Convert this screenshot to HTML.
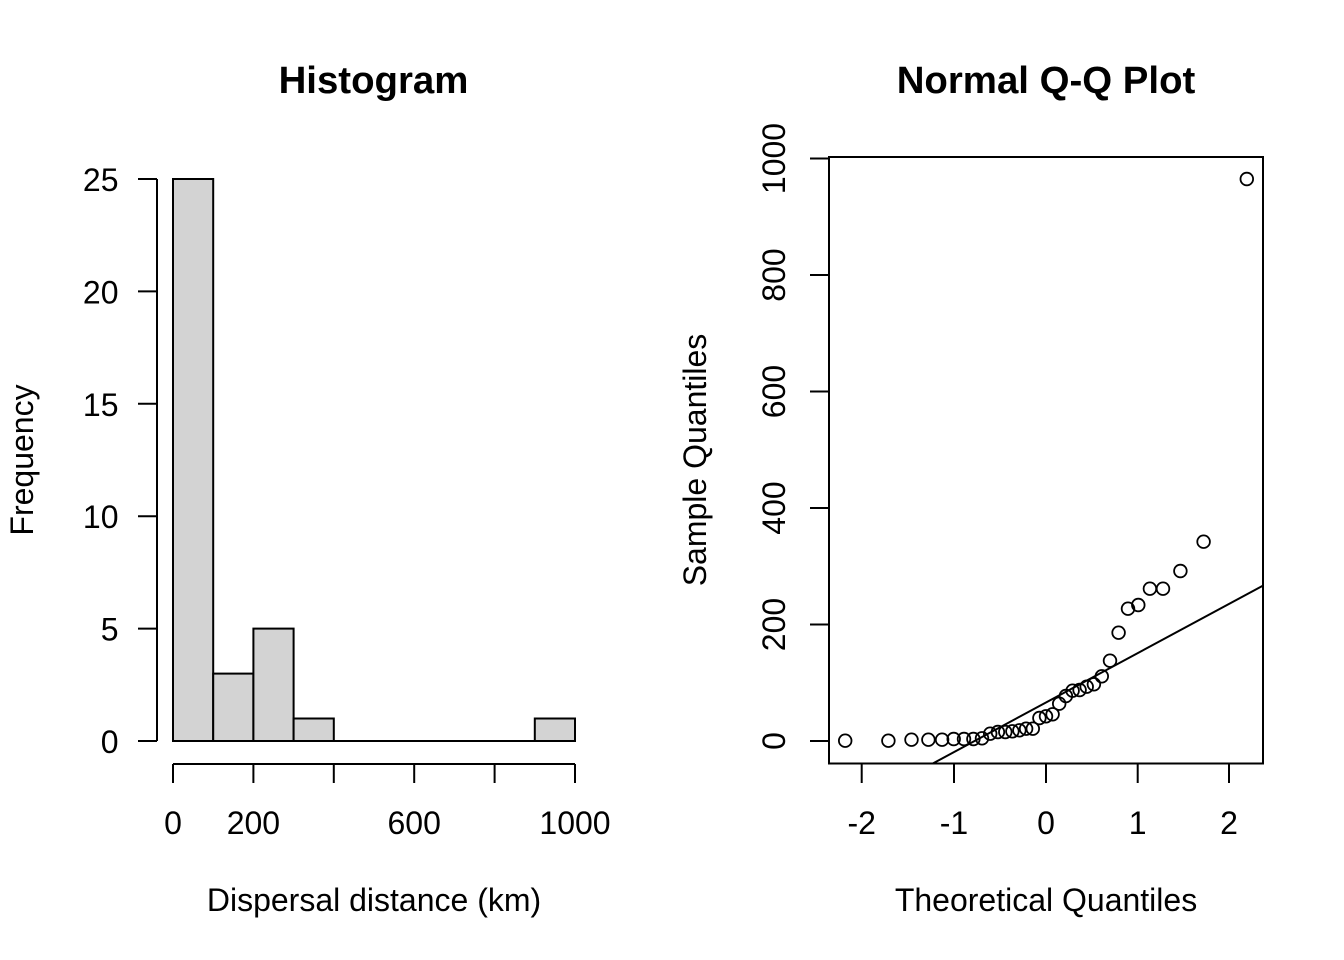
<!DOCTYPE html>
<html>
<head>
<meta charset="utf-8">
<style>
  html, body { margin: 0; padding: 0; background: #ffffff; }
  svg { display: block; }
  text { font-family: "Liberation Sans", Arial, sans-serif; fill: #000; }
  .t { font-size: 32px; }
  .title { font-size: 38.4px; font-weight: bold; }
</style>
</head>
<body>
<svg width="1344" height="960" viewBox="0 0 1344 960" xmlns="http://www.w3.org/2000/svg">
  <rect x="0" y="0" width="1344" height="960" fill="#ffffff"/>

  <!-- ================= HISTOGRAM ================= -->
  <text class="title" x="373.5" y="93" text-anchor="middle">Histogram</text>

  <!-- bars -->
  <g fill="#d3d3d3" stroke="#000" stroke-width="2">
    <rect x="173" y="179" width="40.2" height="562"/>
    <rect x="213.2" y="673.6" width="40.2" height="67.4"/>
    <rect x="253.4" y="628.6" width="40.2" height="112.4"/>
    <rect x="293.6" y="718.5" width="40.2" height="22.5"/>
    <rect x="534.8" y="718.5" width="40.2" height="22.5"/>
  </g>
  <line x1="333.8" y1="741" x2="534.8" y2="741" stroke="#000" stroke-width="2"/>

  <!-- y axis -->
  <g stroke="#000" stroke-width="2" fill="none">
    <line x1="157" y1="179" x2="157" y2="741"/>
    <line x1="138" y1="741" x2="157" y2="741"/>
    <line x1="138" y1="628.6" x2="157" y2="628.6"/>
    <line x1="138" y1="516.2" x2="157" y2="516.2"/>
    <line x1="138" y1="403.8" x2="157" y2="403.8"/>
    <line x1="138" y1="291.4" x2="157" y2="291.4"/>
    <line x1="138" y1="179" x2="157" y2="179"/>
  </g>
  <g class="t" text-anchor="end">
    <text class="t" x="118.5" y="753">0</text>
    <text class="t" x="118.5" y="640.6">5</text>
    <text class="t" x="118.5" y="528.2">10</text>
    <text class="t" x="118.5" y="415.8">15</text>
    <text class="t" x="118.5" y="303.4">20</text>
    <text class="t" x="118.5" y="191">25</text>
  </g>
  <text class="t" transform="translate(33,460) rotate(-90)" text-anchor="middle">Frequency</text>

  <!-- x axis -->
  <g stroke="#000" stroke-width="2" fill="none">
    <line x1="173" y1="764" x2="575" y2="764"/>
    <line x1="173" y1="764" x2="173" y2="783"/>
    <line x1="253.4" y1="764" x2="253.4" y2="783"/>
    <line x1="333.8" y1="764" x2="333.8" y2="783"/>
    <line x1="414.2" y1="764" x2="414.2" y2="783"/>
    <line x1="494.6" y1="764" x2="494.6" y2="783"/>
    <line x1="575" y1="764" x2="575" y2="783"/>
  </g>
  <g text-anchor="middle">
    <text class="t" x="173" y="834">0</text>
    <text class="t" x="253.4" y="834">200</text>
    <text class="t" x="414.2" y="834">600</text>
    <text class="t" x="575" y="834">1000</text>
  </g>
  <text class="t" x="374" y="911" text-anchor="middle">Dispersal distance (km)</text>

  <!-- ================= Q-Q PLOT ================= -->
  <text class="title" x="1046" y="93" text-anchor="middle">Normal Q-Q Plot</text>

  <rect x="829" y="157" width="434" height="606.5" fill="none" stroke="#000" stroke-width="2"/>

  <!-- y axis ticks -->
  <g stroke="#000" stroke-width="2">
    <line x1="810" y1="741" x2="829" y2="741"/>
    <line x1="810" y1="624.5" x2="829" y2="624.5"/>
    <line x1="810" y1="508" x2="829" y2="508"/>
    <line x1="810" y1="391.5" x2="829" y2="391.5"/>
    <line x1="810" y1="275" x2="829" y2="275"/>
    <line x1="810" y1="158.5" x2="829" y2="158.5"/>
  </g>
  <text class="t" transform="translate(785,741) rotate(-90)" text-anchor="middle">0</text>
  <text class="t" transform="translate(785,624.5) rotate(-90)" text-anchor="middle">200</text>
  <text class="t" transform="translate(785,508) rotate(-90)" text-anchor="middle">400</text>
  <text class="t" transform="translate(785,391.5) rotate(-90)" text-anchor="middle">600</text>
  <text class="t" transform="translate(785,275) rotate(-90)" text-anchor="middle">800</text>
  <text class="t" transform="translate(785,158.5) rotate(-90)" text-anchor="middle">1000</text>
  <text class="t" transform="translate(706,460) rotate(-90)" text-anchor="middle">Sample Quantiles</text>

  <!-- x axis ticks -->
  <g stroke="#000" stroke-width="2">
    <line x1="861.7" y1="763.5" x2="861.7" y2="783"/>
    <line x1="954" y1="763.5" x2="954" y2="783"/>
    <line x1="1046" y1="763.5" x2="1046" y2="783"/>
    <line x1="1137.7" y1="763.5" x2="1137.7" y2="783"/>
    <line x1="1229" y1="763.5" x2="1229" y2="783"/>
  </g>
  <g text-anchor="middle">
    <text class="t" x="861.7" y="834">-2</text>
    <text class="t" x="954" y="834">-1</text>
    <text class="t" x="1046" y="834">0</text>
    <text class="t" x="1137.7" y="834">1</text>
    <text class="t" x="1229" y="834">2</text>
  </g>
  <text class="t" x="1046" y="911" text-anchor="middle">Theoretical Quantiles</text>

  <!-- qq line -->
  <line x1="932.8" y1="763.5" x2="1263" y2="585.6" stroke="#000" stroke-width="2"/>

  <!-- points -->
  <g fill="none" stroke="#000" stroke-width="1.8">
    <circle cx="845.2" cy="740.7" r="6.3"/>
    <circle cx="888.4" cy="740.7" r="6.3"/>
    <circle cx="911.5" cy="739.7" r="6.3"/>
    <circle cx="928.4" cy="739.7" r="6.3"/>
    <circle cx="942.1" cy="739.7" r="6.3"/>
    <circle cx="953.7" cy="739" r="6.3"/>
    <circle cx="964.0" cy="739" r="6.3"/>
    <circle cx="973.4" cy="739" r="6.3"/>
    <circle cx="982.0" cy="738.3" r="6.3"/>
    <circle cx="990.2" cy="733.7" r="6.3"/>
    <circle cx="997.9" cy="732" r="6.3"/>
    <circle cx="1005.3" cy="732" r="6.3"/>
    <circle cx="1012.4" cy="731.3" r="6.3"/>
    <circle cx="1019.4" cy="730.3" r="6.3"/>
    <circle cx="1026.1" cy="728.7" r="6.3"/>
    <circle cx="1032.8" cy="728.7" r="6.3"/>
    <circle cx="1039.4" cy="718" r="6.3"/>
    <circle cx="1046" cy="716.3" r="6.3"/>
    <circle cx="1052.6" cy="714.3" r="6.3"/>
    <circle cx="1059.2" cy="703.7" r="6.3"/>
    <circle cx="1065.9" cy="696" r="6.3"/>
    <circle cx="1072.6" cy="690.7" r="6.3"/>
    <circle cx="1079.6" cy="690" r="6.3"/>
    <circle cx="1086.7" cy="686.7" r="6.3"/>
    <circle cx="1093.9" cy="684.3" r="6.3"/>
    <circle cx="1101.8" cy="676.3" r="6.3"/>
    <circle cx="1110.0" cy="660.7" r="6.3"/>
    <circle cx="1118.6" cy="632.7" r="6.3"/>
    <circle cx="1128.0" cy="608.7" r="6.3"/>
    <circle cx="1138.3" cy="605" r="6.3"/>
    <circle cx="1149.9" cy="588.7" r="6.3"/>
    <circle cx="1163.0" cy="588.7" r="6.3"/>
    <circle cx="1180.4" cy="571" r="6.3"/>
    <circle cx="1203.6" cy="541.7" r="6.3"/>
    <circle cx="1246.8" cy="179" r="6.3"/>
  </g>
</svg>
</body>
</html>
